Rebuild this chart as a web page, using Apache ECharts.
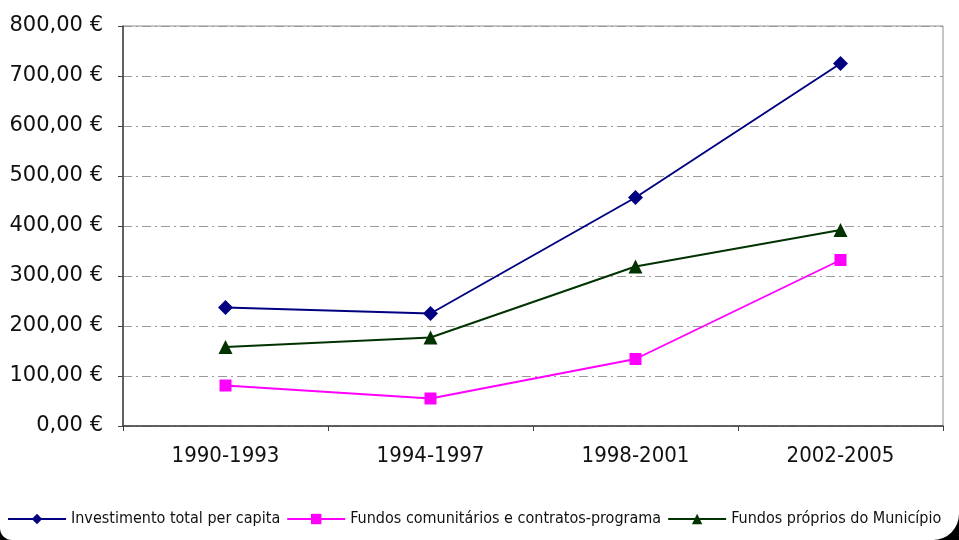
<!DOCTYPE html>
<html>
<head>
<meta charset="utf-8">
<script src="https://cdn.jsdelivr.net/npm/echarts@6/dist/echarts.min.js"></script>
<style>
  html, body { margin: 0; padding: 0; background: #000; }
  #chart { width: 959px; height: 540px; }
</style>
</head>
<body>
<div id="chart"></div>
<script>
// Periods on the horizontal axis
var periods = ['1990-1993', '1994-1997', '1998-2001', '2002-2005'];

// Per-capita values (€) for each period
var investimentoTotal = [237, 225, 457, 725];
var fundosComunitarios = [81, 55, 134, 332];
var fundosProprios = [158, 177, 319, 392];

var seriesNames = [
  'Investimento total per capita',
  'Fundos comunitários e contratos-programa',
  'Fundos próprios do Município'
];

// Value axis range
var yMin = 0, yMax = 800, yStep = 100;

function euro(v) {
  return v.toFixed(2).replace('.', ',') + ' €';
}

var chart = echarts.init(document.getElementById('chart'), null, { renderer: 'canvas' });

function lineSeries(name, data, color, symbol, size) {
  return {
    name: name,
    type: 'line',
    data: data,
    symbol: symbol,
    symbolSize: size,
    lineStyle: { color: color, width: 1.9 },
    itemStyle: { color: color },
    z: 3
  };
}

chart.setOption({
  backgroundColor: '#000',
  animation: false,
  graphic: [{
    type: 'rect',
    z: -10,
    silent: true,
    shape: { x: 0, y: -40, width: 959, height: 580, r: [0, 0, 26, 12] },
    style: { fill: '#fff' }
  }],
  grid: {
    left: 123, right: 16, top: 26, bottom: 114,
    show: true,
    borderColor: '#8c8c8c',
    borderWidth: 1,
    backgroundColor: 'transparent'
  },
  legend: {
    left: 2,
    top: 506,
    itemWidth: 58,
    itemHeight: 13,
    itemGap: 6,
    textStyle: {
      fontFamily: 'DejaVu Sans Condensed',
      fontSize: 16,
      color: '#111'
    },
    data: seriesNames
  },
  xAxis: {
    type: 'category',
    data: periods,
    boundaryGap: true,
    axisLine: { lineStyle: { color: '#404040', width: 1.5 } },
    axisTick: { show: true, length: 5, lineStyle: { color: '#404040' } },
    axisLabel: {
      margin: 19,
      fontFamily: 'DejaVu Sans Condensed',
      fontSize: 22,
      color: '#111'
    },
    splitLine: { show: false }
  },
  yAxis: {
    type: 'value',
    min: yMin,
    max: yMax,
    interval: yStep,
    axisLine: { show: true, lineStyle: { color: '#404040', width: 1.5 } },
    axisTick: { show: true, length: 5, lineStyle: { color: '#404040' } },
    axisLabel: {
      margin: 20,
      fontFamily: 'DejaVu Sans',
      fontSize: 21,
      color: '#111',
      formatter: euro
    },
    splitLine: {
      show: true,
      lineStyle: { color: '#9a9a9a', width: 1, type: [9, 4, 2, 4] }
    }
  },
  series: [
    lineSeries(seriesNames[0], investimentoTotal, '#000080', 'diamond', 15),
    lineSeries(seriesNames[1], fundosComunitarios, '#ff00ff', 'rect', 12),
    lineSeries(seriesNames[2], fundosProprios, '#003300', 'triangle', 14)
  ]
});
</script>
</body>
</html>
